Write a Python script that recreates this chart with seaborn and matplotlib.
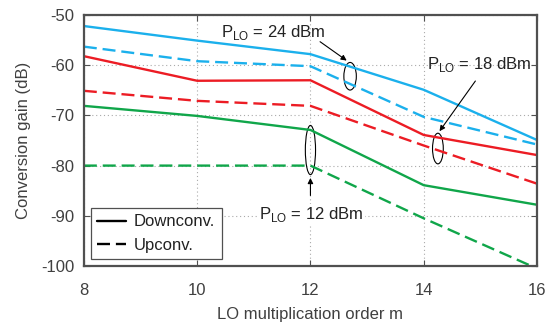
import numpy as np
import pandas as pd
import seaborn as sns
import matplotlib.pyplot as plt
from matplotlib.patches import Ellipse
from matplotlib.lines import Line2D

# data
m = [8, 10, 12, 14, 16]
down_24 = [-52.2, -55.1, -57.8, -64.9, -74.9]
up_24 = [-56.3, -59.2, -60.2, -70.3, -75.8]
down_18 = [-58.2, -63.1, -63.0, -73.9, -77.9]
up_18 = [-65.1, -67.1, -68.1, -76.0, -83.6]
down_12 = [-68.1, -70.1, -72.9, -83.9, -87.8]
up_12 = [-80.0, -80.0, -80.0, -90.5, -100.5]

series = [
    ("24", "Downconv.", down_24), ("24", "Upconv.", up_24),
    ("18", "Downconv.", down_18), ("18", "Upconv.", up_18),
    ("12", "Downconv.", down_12), ("12", "Upconv.", up_12),
]
rows = []
for p, mode, vals in series:
    for x, y in zip(m, vals):
        rows.append({"m": x, "gain": y, "P": p, "mode": mode})
df = pd.DataFrame(rows)

sns.set_style("ticks")
plt.rcParams["font.family"] = ["Liberation Sans", "DejaVu Sans"]
plt.rcParams["axes.unicode_minus"] = False
plt.rcParams["mathtext.fontset"] = "custom"
plt.rcParams["mathtext.rm"] = "Liberation Sans"

txt = "#404040"
fig = plt.figure(figsize=(5.48, 3.26), dpi=100)
ax = fig.add_axes([0.153, 0.184, 0.827, 0.770])

palette = {"24": "#1BB0EC", "18": "#EC1C24", "12": "#10A64A"}
sns.lineplot(data=df, x="m", y="gain", hue="P", style="mode",
             palette=palette, dashes={"Downconv.": "", "Upconv.": (5.5, 2.5)},
             linewidth=1.7, legend=False, ax=ax)

ax.set_xlim(8, 16)
ax.set_ylim(-100, -50)
ax.set_xticks([8, 10, 12, 14, 16])
ax.set_yticks(np.arange(-100, -49, 10))
ax.grid(True, linestyle=(0, (1, 2.5)), color="#aaaaaa", linewidth=0.8)
for s in ax.spines.values():
    s.set_color("#505050")
    s.set_linewidth(1.6)
ax.tick_params(direction="in", top=True, right=True, length=4, color="#505050",
               labelsize=12, labelcolor=txt)
ax.tick_params(axis="x", pad=12)
ax.tick_params(axis="y", pad=7)
ax.set_xlabel("LO multiplication order m", fontsize=12, color=txt, labelpad=7)
ax.set_ylabel("Conversion gain (dB)", fontsize=12, color=txt, labelpad=7)

# annotations
ax.add_patch(Ellipse((12.70, -62.2), 0.22, 5.5, fill=False, lw=0.8, color="black"))
ax.add_patch(Ellipse((14.25, -76.6), 0.19, 6.1, fill=False, lw=0.8, color="black"))
ax.add_patch(Ellipse((12.0, -76.9), 0.18, 9.8, fill=False, lw=0.8, color="black"))

lbl = r"P$_{\mathregular{LO}}$ = %s dBm"
ax.text(10.42, -53.4, lbl % "24", fontsize=12, va="center", color="#222222")
ax.annotate("", xy=(12.68, -59.4), xytext=(12.13, -55.0),
            arrowprops=dict(arrowstyle="-|>", lw=0.8, color="black", mutation_scale=8))
ax.text(14.05, -59.8, lbl % "18", fontsize=12, va="center", color="#222222")
ax.annotate("", xy=(14.25, -73.6), xytext=(14.94, -62.7),
            arrowprops=dict(arrowstyle="-|>", lw=0.8, color="black", mutation_scale=8))
ax.text(11.1, -89.8, lbl % "12", fontsize=12, va="center",
        color="#222222", bbox=dict(facecolor="white", edgecolor="none", pad=1))
ax.annotate("", xy=(12.0, -81.9), xytext=(12.0, -86.5),
            arrowprops=dict(arrowstyle="-|>", lw=0.8, color="black", mutation_scale=8))

handles = [Line2D([], [], color="black", lw=1.7, ls="-"),
           Line2D([], [], color="black", lw=1.7, ls=(0, (5.5, 2.5)))]
leg = ax.legend(handles, ["Downconv.", "Upconv."], loc="lower left", fontsize=12,
                frameon=True, fancybox=False, handlelength=1.7,
                borderaxespad=0.4, framealpha=1, labelspacing=0.5,
                handletextpad=0.5, borderpad=0.4)
leg.get_frame().set_edgecolor("#505050")
leg.get_frame().set_linewidth(0.9)
for t in leg.get_texts():
    t.set_color("#222222")

fig.savefig("out.png", dpi=100)
